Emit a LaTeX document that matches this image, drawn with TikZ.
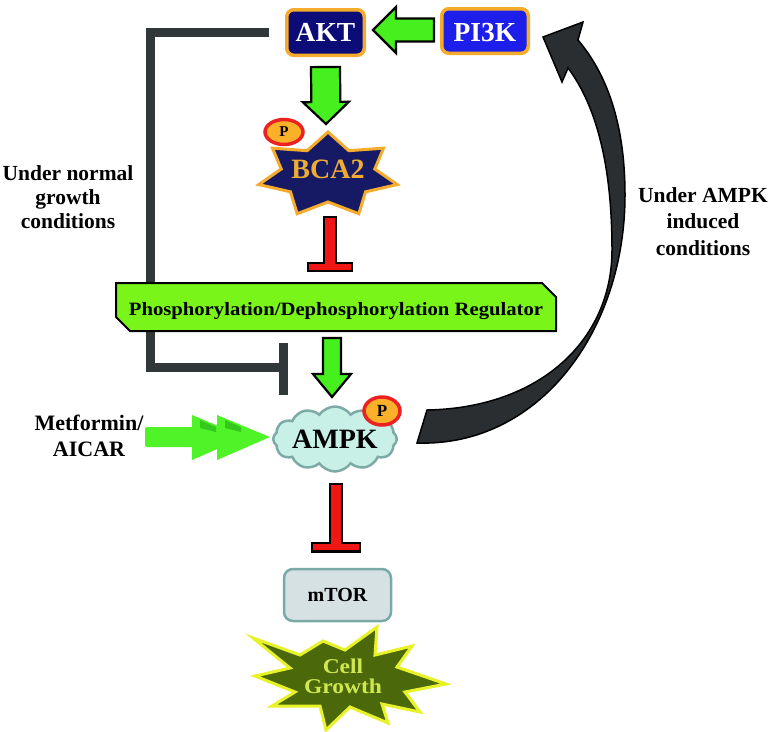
\documentclass[tikz,border=0pt]{standalone}
\usepackage{fontspec}
\setmainfont{Liberation Serif}
\usepackage{graphicx}
\usetikzlibrary{calc,shapes.geometric,shapes.misc,shapes.symbols}
\definecolor{aktnavy}{RGB}{12,12,120}
\definecolor{pikblue}{RGB}{30,30,235}
\definecolor{kborder}{RGB}{245,172,45}
\definecolor{bcanavy}{RGB}{22,26,100}
\definecolor{bcatext}{RGB}{238,172,50}
\definecolor{agreen}{RGB}{70,240,30}
\definecolor{reggreen}{RGB}{122,245,25}
\definecolor{igray}{RGB}{50,56,58}
\definecolor{cdark}{RGB}{42,46,48}
\definecolor{ired}{RGB}{240,22,22}
\definecolor{pred}{RGB}{236,34,34}
\definecolor{porange}{RGB}{250,176,40}
\definecolor{cloudfill}{RGB}{200,240,230}
\definecolor{cloudline}{RGB}{125,170,165}
\definecolor{mtorfill}{RGB}{214,225,228}
\definecolor{mtorline}{RGB}{122,170,166}
\definecolor{cgfill}{RGB}{75,105,10}
\definecolor{cgline}{RGB}{232,242,40}
\definecolor{cgtext}{RGB}{208,232,80}
\definecolor{metgreen}{RGB}{80,242,40}
\definecolor{metdark}{RGB}{52,200,30}
\tikzset{
  kinase/.style={draw=kborder, line width=3.5pt, rounded corners=7pt, text=white,
    font=\bfseries\fontsize{27.5}{28}\selectfont, inner sep=0pt},
  garrowsty/.style={fill=agreen, draw=black, line width=2.2pt, line join=miter},
  redsty/.style={fill=ired, draw=black, line width=2.5pt, line join=miter},
  graysty/.style={draw=igray, line width=9pt, line join=miter, line cap=butt},
  psty/.style={ellipse, draw=pred, fill=porange, line width=3.5pt, inner sep=0pt},
  lbl/.style={align=center, inner sep=0pt, text=black},
  curvesty/.style={fill=cdark, draw=black, line width=1.5pt, line join=miter},
}
\newcommand\blockarrow[5]{%
  \coordinate (bah) at ($(#2)!#5!(#1)$);
  \draw[garrowsty] ($(#1)!#3!90:(#2)$) -- ($(bah)!#3!90:(#2)$) -- ($(bah)!#4!90:(#2)$) -- (#2)
    -- ($(bah)!#4!-90:(#2)$) -- ($(bah)!#3!-90:(#2)$) -- ($(#1)!#3!-90:(#2)$) -- cycle;}
\newcommand\redT[4]{%
  \draw[redsty] ($(#1)+(-6,0)$) -- ++(12,0) -- ++(0,#2) -- ++(#3-6,0) -- ++(0,#4)
    -- ++(-2*#3,0) -- ++(0,-#4) -- ++(#3-6,0) -- cycle;}
\begin{document}
\begin{tikzpicture}[x=1pt,y=-1pt]
\fill[white] (0,0) rectangle (773,731);
\useasboundingbox (0,0) rectangle (773,731);

% kinases
\node[kinase, fill=aktnavy, minimum width=77.5pt, minimum height=45.5pt] (akt) at (325.5,32.5) {AKT};
\node[kinase, fill=pikblue, minimum width=86.5pt, minimum height=44.5pt, text height=20pt, text depth=0pt] (pi3k) at (485,31) {PI3K};

% gray inhibition line (normal growth conditions)
\coordinate (gtee) at (283,367);
\draw[graysty] ($(akt.west)+(-15.75,-0.5)$) -| (150.5,367) -- (gtee);
\draw[graysty] ($(gtee)+(0,-24)$) -- ($(gtee)+(0,28)$);

% regulator
\node[chamfered rectangle, chamfered rectangle corners={north east,south west},
  chamfered rectangle sep=7pt, draw=black, line width=2pt, fill=reggreen,
  minimum width=440pt, minimum height=48pt, inner sep=0pt, text height=16pt, text depth=0pt,
  font=\bfseries\fontsize{18.8}{20}\selectfont] (reg) at (336,307)
  {\scalebox{1.1}[1]{Phosphorylation/Dephosphorylation Regulator}};

% green block arrows
\coordinate (a1s) at ($(pi3k.west)+(-6,-1)$);
\coordinate (a1e) at ($(akt.east)+(7,-2.5)$);
\blockarrow{a1s}{a1e}{11.5pt}{23pt}{23pt}
\coordinate (a2s) at ($(akt.south)+(0,10)$);
\coordinate (a2e) at ($(akt.south)+(0.5,67)$);
\blockarrow{a2s}{a2e}{14.5pt}{23pt}{22pt}
\coordinate (a3s) at ($(reg.south)+(-4,6)$);
\coordinate (a3e) at ($(reg.south)+(-4,65)$);
\blockarrow{a3s}{a3e}{9pt}{19pt}{23pt}

% BCA2 star
\draw[draw=kborder, fill=bcanavy, line width=3pt, line join=miter]
  plot[samples at={0,...,13}] ({328+ifthenelse(mod(\x,2)==0,71,48)*cos(90+\x*360/14)},
                               {175-ifthenelse(mod(\x,2)==0,43,27)*sin(90+\x*360/14)}) -- cycle;
\node[anchor=base, inner sep=0pt, text=bcatext, font=\bfseries\fontsize{28}{28}\selectfont] (bca2) at (328,178) {BCA2};
\node[psty, minimum width=38pt, minimum height=25pt, font=\bfseries\fontsize{15}{15}\selectfont] (pb) at (284,132) {P};

% BCA2 -| regulator
\coordinate (r1) at ($(bca2.base)+(2,39)$);
\redT{r1}{46}{22}{8}

% AMPK
\node[cloud, cloud puffs=12, cloud puff arc=110, aspect=2.4, draw=cloudline, fill=cloudfill,
  line width=2.5pt, minimum width=118pt, minimum height=50pt, inner sep=0pt,
  font=\bfseries\fontsize{28}{28}\selectfont] (ampk) at (335,439) {AMPK};
\node[psty, minimum width=36pt, minimum height=28pt, font=\bfseries\fontsize{17}{17}\selectfont] (pa) at (382,411) {P};

% AMPK -| mTOR
\coordinate (r2) at ($(ampk.center)+(1,45)$);
\redT{r2}{59}{24}{8.5}

% mTOR
\node[draw=mtorline, fill=mtorfill, line width=2.5pt, rounded corners=9pt, inner sep=0pt,
  minimum width=107pt, minimum height=52pt, font=\bfseries\fontsize{20}{20}\selectfont] (mtor) at (337.5,595) {mTOR};

% Cell growth burst
\draw[fill=cgfill, draw=cgline, line width=3pt, line join=miter]
  (253,638) -- (300,655) -- (323,641) -- (345,650) -- (377,627) -- (375,655) -- (412,646)
  -- (397,667) -- (446,684) -- (405,692) -- (420,712) -- (382,704) -- (388,723) -- (350,707)
  -- (326,730) -- (320,706) -- (272,706) -- (295,692) -- (255,676) -- (290,668) -- cycle;
\node[lbl, anchor=north, text=cgtext, font=\bfseries\fontsize{21}{20}\selectfont] (cg) at (343,659)
  {\scalebox{1.12}[1]{Cell}\\\scalebox{1.12}[1]{Growth}};

% curved arrow AMPK -> PI3K
\draw[curvesty] (417,443) .. controls (540,447) and (625,330) .. (625,195)
  .. controls (625,120) and (605,72) .. (578,40) -- (583,22) -- (543,37) -- (562,82) -- (568,68)
  .. controls (598,108) and (612,170) .. (612,250) .. controls (612,340) and (540,408) .. (427,410) -- cycle;

% Metformin arrow
\node[lbl, anchor=north, font=\bfseries\fontsize{22}{26}\selectfont] (metf) at (89,415) {Metformin/\\AICAR};
\coordinate (mstart) at (145,437);
\begin{scope}[shift={(mstart)}]
  \fill[metgreen, rounded corners=2pt] (0,-10) rectangle (55,10);
  \fill[metgreen] (47,-22) -- (100,0) -- (47,23) -- cycle;
  \fill[metdark] (55,-17) -- (71,-10) -- (71,-5) -- (55,-9) -- cycle;
  \fill[metgreen] (72,-22) -- (125,0) -- (72,23) -- cycle;
  \fill[metdark] (80,-17) -- (96,-10) -- (96,-5) -- (80,-9) -- cycle;
\end{scope}

% labels
\node[lbl, anchor=north, font=\bfseries\fontsize{21.5}{24}\selectfont] (normal) at (68,165) {Under normal\\growth\\conditions};
\node[lbl, anchor=north, font=\bfseries\fontsize{21.5}{26.5}\selectfont] (ampkcond) at (703,187) {Under AMPK\\induced\\conditions};
\end{tikzpicture}
\end{document}
